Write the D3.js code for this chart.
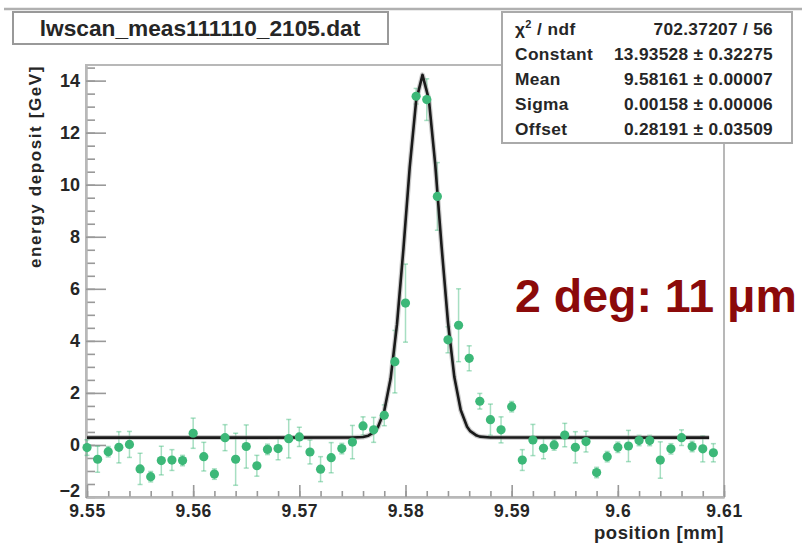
<!DOCTYPE html>
<html><head><meta charset="utf-8">
<script src="https://cdn.jsdelivr.net/npm/d3@7"></script>
<style>
body{margin:0;background:#fff;}
svg{display:block;font-family:"Liberation Sans",Arial,Helvetica,sans-serif;font-weight:bold;}
</style></head>
<body><svg id="c" width="806" height="544"></svg>
<script>
// ---- data ----
const positions = d3.range(60).map(i => +(9.550 + 0.001 * i).toFixed(3));
const deposits = [-0.10,-0.55,-0.26,-0.09,0.02,-0.92,-1.22,-0.60,-0.58,-0.60,
  0.45,-0.45,-1.12,0.28,-0.55,-0.06,-0.80,-0.17,-0.14,0.24,
  0.31,-0.27,-0.93,-0.49,-0.14,0.11,0.73,0.58,1.14,3.20,
  5.45,13.40,13.27,9.55,4.04,4.60,3.33,1.68,0.97,0.58,
  1.47,-0.58,0.19,-0.13,0.00,0.38,-0.09,0.13,-1.06,-0.45,
  -0.09,-0.04,0.17,0.17,-0.58,-0.15,0.28,-0.06,-0.15,-0.30];
const errors = [0.30,0.50,0.20,0.60,0.50,0.60,0.20,0.55,0.40,0.20,
  0.58,0.55,0.20,0.50,1.00,0.83,0.40,0.20,0.43,0.74,
  0.37,0.46,0.48,0.58,0.20,0.64,0.35,0.48,0.40,1.20,
  1.50,0.30,0.80,1.30,0.50,1.40,0.48,0.30,0.60,0.50,
  0.20,0.40,0.60,0.40,0.20,0.45,0.60,0.40,0.20,0.20,
  0.20,0.60,0.20,0.20,0.70,0.20,0.30,0.20,0.50,0.35];
// fit curve points
const fitX = [9.55,9.575,9.576,9.5765,9.577,9.5774,9.578,9.5786,9.5792,9.5798,9.5804,9.5810,9.5816,
  9.5822,9.5828,9.5834,9.5840,9.5846,9.5852,9.5858,9.5861,9.5867,9.587,9.588,9.6086];
const fitY = [0.282,0.284,0.307,0.356,0.479,0.68,1.306,2.55,4.64,7.51,10.68,13.22,14.22,
  13.28,10.78,7.62,4.72,2.61,1.34,0.70,0.53,0.36,0.32,0.286,0.282];
const yMajorTicks = [-2,0,2,4,6,8,10,12,14];
const xMajorTicks = [9.55,9.56,9.57,9.58,9.59,9.60,9.61];
const xTickLabels = ["9.55","9.56","9.57","9.58","9.59","9.6","9.61"];
const statNames = ["χ² / ndf","Constant","Mean","Sigma","Offset"];
const statValues = ["702.37207 / 56","13.93528 ± 0.32275","9.58161 ± 0.00007","0.00158 ± 0.00006","0.28191 ± 0.03509"];
const titleText = "lwscan_meas111110_2105.dat";
const xTitle = "position [mm]";
const yTitle = "energy deposit [GeV]";
const note = "2 deg: 11 μm";

// ---- drawing ----
const svg = d3.select("#c");
const L = 86, R = 724, T = 65, B = 497;
const x = d3.scaleLinear().domain([9.55, 9.61]).range([87, 724]);
const y = d3.scaleLinear().domain([-2, 14.6]).range([B, T]);
const ink = "#262626";

// top canvas line
svg.append("line").attr("x1",4).attr("x2",802).attr("y1",9).attr("y2",9)
  .attr("stroke","#b0b0b0").attr("stroke-width",2.5);

// frame
svg.append("rect").attr("x",L).attr("y",T).attr("width",R-L).attr("height",B-T)
  .attr("fill","none").attr("stroke","#b8b8b8").attr("stroke-width",2);

// y axis: minor + major
const yMinor = d3.axisLeft(y).tickValues(d3.range(-2, 14.51, 0.5)).tickSize(-9).tickSizeOuter(0).tickFormat("");
const gym = svg.append("g").attr("transform",`translate(${L},0)`).call(yMinor);
const yMajor = d3.axisLeft(y).tickValues(yMajorTicks).tickSize(-20).tickSizeOuter(0).tickPadding(6).tickFormat(d3.format("d"));
const gy = svg.append("g").attr("transform",`translate(${L},0)`).call(yMajor);
[gym, gy].forEach(g => {
  g.selectAll("line").attr("stroke","#999").attr("stroke-width",1.6);
  g.select(".domain").attr("stroke","#b8b8b8").attr("stroke-width",2);
});
gy.selectAll("text").attr("font-size",18).attr("font-weight","bold").attr("fill",ink)
  .attr("font-family","Liberation Sans, Arial, sans-serif")
  .attr("dy", d => d === -2 ? "-0.05em" : "0.32em");

// x axis
const xMinor = d3.axisBottom(x).tickValues(d3.range(9.55, 9.6101, 0.002)).tickSize(-6).tickSizeOuter(0).tickFormat("");
const gxm = svg.append("g").attr("transform",`translate(0,${B})`).call(xMinor);
const xMajor = d3.axisBottom(x).tickValues(xMajorTicks).tickSize(-12).tickSizeOuter(0).tickPadding(8)
  .tickFormat((d,i) => xTickLabels[i]);
const gx = svg.append("g").attr("transform",`translate(0,${B})`).call(xMajor);
[gxm, gx].forEach(g => {
  g.selectAll("line").attr("stroke","#999").attr("stroke-width",1.6);
  g.select(".domain").attr("stroke","#b8b8b8").attr("stroke-width",2);
});
gx.selectAll("text").attr("font-size",17.5).attr("font-weight","bold").attr("fill",ink)
  .attr("letter-spacing","0.6px").attr("font-family","Liberation Sans, Arial, sans-serif");

// axis titles
svg.append("text").attr("x",R).attr("y",539).attr("text-anchor","end")
  .attr("font-size",18.5).attr("letter-spacing","0.6px").attr("fill",ink).text(xTitle);
svg.append("text").attr("transform",`translate(41,${T}) rotate(-90)`).attr("text-anchor","end")
  .attr("font-size",17).attr("letter-spacing","1.6px").attr("fill",ink).text(yTitle);

// error bars
const col = "#3cb878";
const eg = svg.append("g");
positions.forEach((p,i) => {
  const e = errors[i], v = deposits[i];
  eg.append("line").attr("x1",x(p)).attr("x2",x(p)).attr("y1",y(v-e)).attr("y2",y(v+e))
    .attr("stroke",col).attr("stroke-opacity",0.45).attr("stroke-width",1.5);
  [v-e, v+e].forEach(w => eg.append("line").attr("x1",x(p)-2.5).attr("x2",x(p)+2.5)
    .attr("y1",y(w)).attr("y2",y(w)).attr("stroke",col).attr("stroke-opacity",0.45).attr("stroke-width",1.5));
});

// fit curve
const line = d3.line().x((d,i)=>x(fitX[i])).y((d,i)=>y(fitY[i]));
svg.append("path").datum(fitX).attr("d",line).attr("fill","none")
  .attr("stroke","#999").attr("stroke-width",5).attr("stroke-opacity",0.5).attr("stroke-linejoin","round");
svg.append("path").datum(fitX).attr("d",line).attr("fill","none")
  .attr("stroke","#1a1a1a").attr("stroke-width",2.6).attr("stroke-linejoin","round");

// points
svg.append("g").selectAll("circle").data(positions).join("circle")
  .attr("cx",d=>x(d)).attr("cy",(d,i)=>y(deposits[i])).attr("r",4.6).attr("fill",col);

// title box
svg.append("rect").attr("x",13).attr("y",12).attr("width",375).attr("height",32)
  .attr("fill","#fff").attr("stroke","#999").attr("stroke-width",2);
svg.append("text").attr("x",200).attr("y",36).attr("text-anchor","middle")
  .attr("font-size",22.7).attr("fill",ink).text(titleText);

// stats box
svg.append("rect").attr("x",502).attr("y",12).attr("width",290).attr("height",131)
  .attr("fill","#fff").attr("stroke","#aaa").attr("stroke-width",2);
statNames.forEach((n,i) => {
  const yy = 35 + i*25;
  const t = svg.append("text").attr("x",515).attr("y",yy).attr("font-size",17.3)
    .attr("letter-spacing","0.4px").attr("fill",ink);
  if (i === 0) {
    t.append("tspan").text("χ");
    t.append("tspan").attr("dy",-7).attr("font-size",11).text("2");
    t.append("tspan").attr("dy",7).text(" / ndf");
  } else t.text(n);
  svg.append("text").attr("x",773).attr("y",yy).attr("text-anchor","end")
    .attr("font-size",17.3).attr("letter-spacing","0.3px").attr("fill",ink).text(statValues[i]);
});

// annotation
svg.append("text").attr("x",515).attr("y",312).attr("font-size",46.5).attr("fill","#8b0a0a").text(note);
</script></body></html>
